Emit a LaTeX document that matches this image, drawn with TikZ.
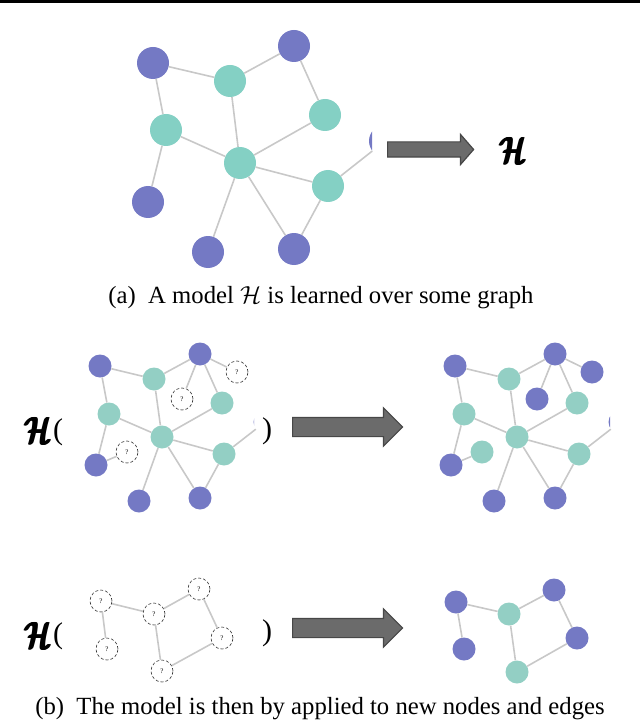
\RequirePackage{fix-cm}
\documentclass[tikz,border=0pt]{standalone}
\usepackage{amsmath,bm}
\usepackage{graphicx}
\usepackage{fontspec}
\setmainfont{Liberation Serif}
\usepackage{tikz}
\usetikzlibrary{shapes.arrows}
\definecolor{cpurple}{HTML}{7479C4}
\definecolor{cteal}{HTML}{84D0C4}
\definecolor{ctealb}{HTML}{93CFC4}
\definecolor{cedge}{HTML}{C8C8C8}
\definecolor{carrow}{HTML}{6B6B6B}
\newcommand{\hglyph}{$\bm{\mathcal{H}}$}
\newcommand{\bigH}{\scalebox{0.72}[1]{\rlap{\hglyph}\rlap{\kern0.8pt\hglyph}\rlap{\kern1.6pt\hglyph}\kern2.4pt\hglyph}}

\begin{document}
\begin{tikzpicture}[
  x=1pt, y=-1pt,
  gdot/.style={circle, inner sep=0pt, minimum size=23pt},
  pnode/.style={gdot, fill=cpurple},
  tnode/.style={gdot, fill=ctealb},
  ptop/.style={pnode, minimum size=32pt},
  ttop/.style={gdot, fill=cteal, minimum size=32pt},
  qnode/.style={gdot, minimum size=22pt, draw=black!80, densely dashed, line width=0.6pt, fill=white, font=\fontsize{7}{8}\selectfont},
  link/.style={draw=cedge, line width=1.6pt},
  bigarr/.style={single arrow, draw=black!72, fill=carrow, line width=1.2pt, inner xsep=0pt, anchor=tail},
  hm/.style={font=\fontsize{38}{40}\selectfont, inner sep=0pt},
  paren/.style={font=\fontsize{30}{32}\selectfont, inner sep=0pt},
  captxt/.style={font=\fontsize{24.7}{28}\selectfont, inner sep=0pt},
]
\useasboundingbox (0,0) rectangle (640,727);
\draw[line width=3pt] (0,1.5) -- (640,1.5);

% (a) graph and model
\node[ptop] (g1) at (153,63) {};
\node[ttop] (g2) at (230,81) {};
\node[ptop] (g3) at (294,46) {};
\node[ttop] (g4) at (325,115) {};
\node[ttop] (g5) at (166,130) {};
\node[ttop] (g6) at (240,163) {};
\node[ttop] (g7) at (328,186) {};
\node[ptop] (g8) at (148,202) {};
\node[ptop] (g9) at (208,252) {};
\node[ptop] (g10) at (294,249) {};
\begin{scope}
  \clip (0,0) rectangle (372,300);
  \node[ptop] (g11) at (385,141) {};
\end{scope}
\draw[link] (g1) -- (g2) (g1) -- (g5) (g2) -- (g3) (g3) -- (g4) (g2) -- (g6)
  (g5) -- (g6) (g4) -- (g6) (g6) -- (g7) (g5) -- (g8) (g6) -- (g9)
  (g6) -- (g10) (g7) -- (g10) (g7) -- (g11);
\node[bigarr, inner ysep=7pt, minimum height=86pt, single arrow head extend=7.5pt, single arrow tip angle=98] (arA) at (387,149.5) {};
\node[hm] (hA) at (513,150) {\bigH};
\node[captxt] (capa) at (321,298) {(a)\enspace A model $\mathcal{H}$ is learned over some graph};

% (b) first row: unknown nodes
\node[hm] (hB) at (38,430) {\bigH};
\node[paren] (lpB) at (58,432) {(};
\node[pnode] (u1) at (100,366) {};
\node[tnode] (u2) at (154,379) {};
\node[pnode] (u3) at (200,354) {};
\node[qnode] (u4) at (237,372) {?};
\node[qnode] (u5) at (182,399) {?};
\node[tnode] (u6) at (222,403) {};
\node[tnode] (u7) at (109,414) {};
\node[tnode] (u8) at (162,437) {};
\node[qnode] (u9) at (127,452) {?};
\node[pnode] (u10) at (96,465) {};
\node[tnode] (u11) at (224,454) {};
\node[pnode] (u12) at (139,501) {};
\node[pnode] (u13) at (200,498) {};
\begin{scope}
  \clip (0,300) rectangle (254,520);
  \node[pnode] (u14) at (265,422) {};
\end{scope}
\draw[link] (u1) -- (u2) (u1) -- (u7) (u2) -- (u3) (u3) -- (u4) (u3) -- (u5)
  (u3) -- (u6) (u2) -- (u8) (u7) -- (u8) (u6) -- (u8) (u8) -- (u11)
  (u7) -- (u10) (u10) -- (u9) (u8) -- (u12) (u8) -- (u13) (u11) -- (u13)
  (u11) -- (u14);
\node[paren] (rpB) at (267,431) {)};
\node[bigarr, inner ysep=9pt, minimum height=110pt, single arrow head extend=9.5pt] (arB) at (292,427) {};
\node[pnode] (v1) at (455,366) {};
\node[tnode] (v2) at (509,379) {};
\node[pnode] (v3) at (555,354) {};
\node[pnode] (v4) at (592,372) {};
\node[pnode] (v5) at (537,399) {};
\node[tnode] (v6) at (577,403) {};
\node[tnode] (v7) at (464,414) {};
\node[tnode] (v8) at (517,437) {};
\node[tnode] (v9) at (482,452) {};
\node[pnode] (v10) at (451,465) {};
\node[tnode] (v11) at (579,454) {};
\node[pnode] (v12) at (494,501) {};
\node[pnode] (v13) at (555,498) {};
\begin{scope}
  \clip (400,300) rectangle (610,520);
  \node[pnode] (v14) at (620,422) {};
\end{scope}
\draw[link] (v1) -- (v2) (v1) -- (v7) (v2) -- (v3) (v3) -- (v4) (v3) -- (v5)
  (v3) -- (v6) (v2) -- (v8) (v7) -- (v8) (v6) -- (v8) (v8) -- (v11)
  (v7) -- (v10) (v10) -- (v9) (v8) -- (v12) (v8) -- (v13) (v11) -- (v13)
  (v11) -- (v14);

% (b) second row: new graph
\node[hm] (hC) at (38,635) {\bigH};
\node[paren] (lpC) at (58,636) {(};
\node[qnode] (q1) at (101,601) {?};
\node[qnode] (q2) at (154,614) {?};
\node[qnode] (q3) at (199,589) {?};
\node[qnode] (q4) at (222,638) {?};
\node[qnode] (q5) at (107,649) {?};
\node[qnode] (q6) at (162,671) {?};
\draw[link] (q1) -- (q2) (q2) -- (q3) (q3) -- (q4) (q4) -- (q6) (q2) -- (q6) (q1) -- (q5);
\node[paren] (rpC) at (267,633) {)};
\node[bigarr, inner ysep=9pt, minimum height=110pt, single arrow head extend=9.5pt] (arC) at (292,628) {};
\node[pnode] (w1) at (456,602) {};
\node[tnode] (w2) at (509,614) {};
\node[pnode] (w3) at (554,590) {};
\node[pnode] (w4) at (577,638) {};
\node[pnode] (w5) at (464,649) {};
\node[tnode] (w6) at (517,672) {};
\draw[link] (w1) -- (w2) (w2) -- (w3) (w3) -- (w4) (w4) -- (w6) (w2) -- (w6) (w1) -- (w5);
\node[captxt] (capb) at (320,709) {(b)\enspace The model is then by applied to new nodes and edges};
\end{tikzpicture}
\end{document}
